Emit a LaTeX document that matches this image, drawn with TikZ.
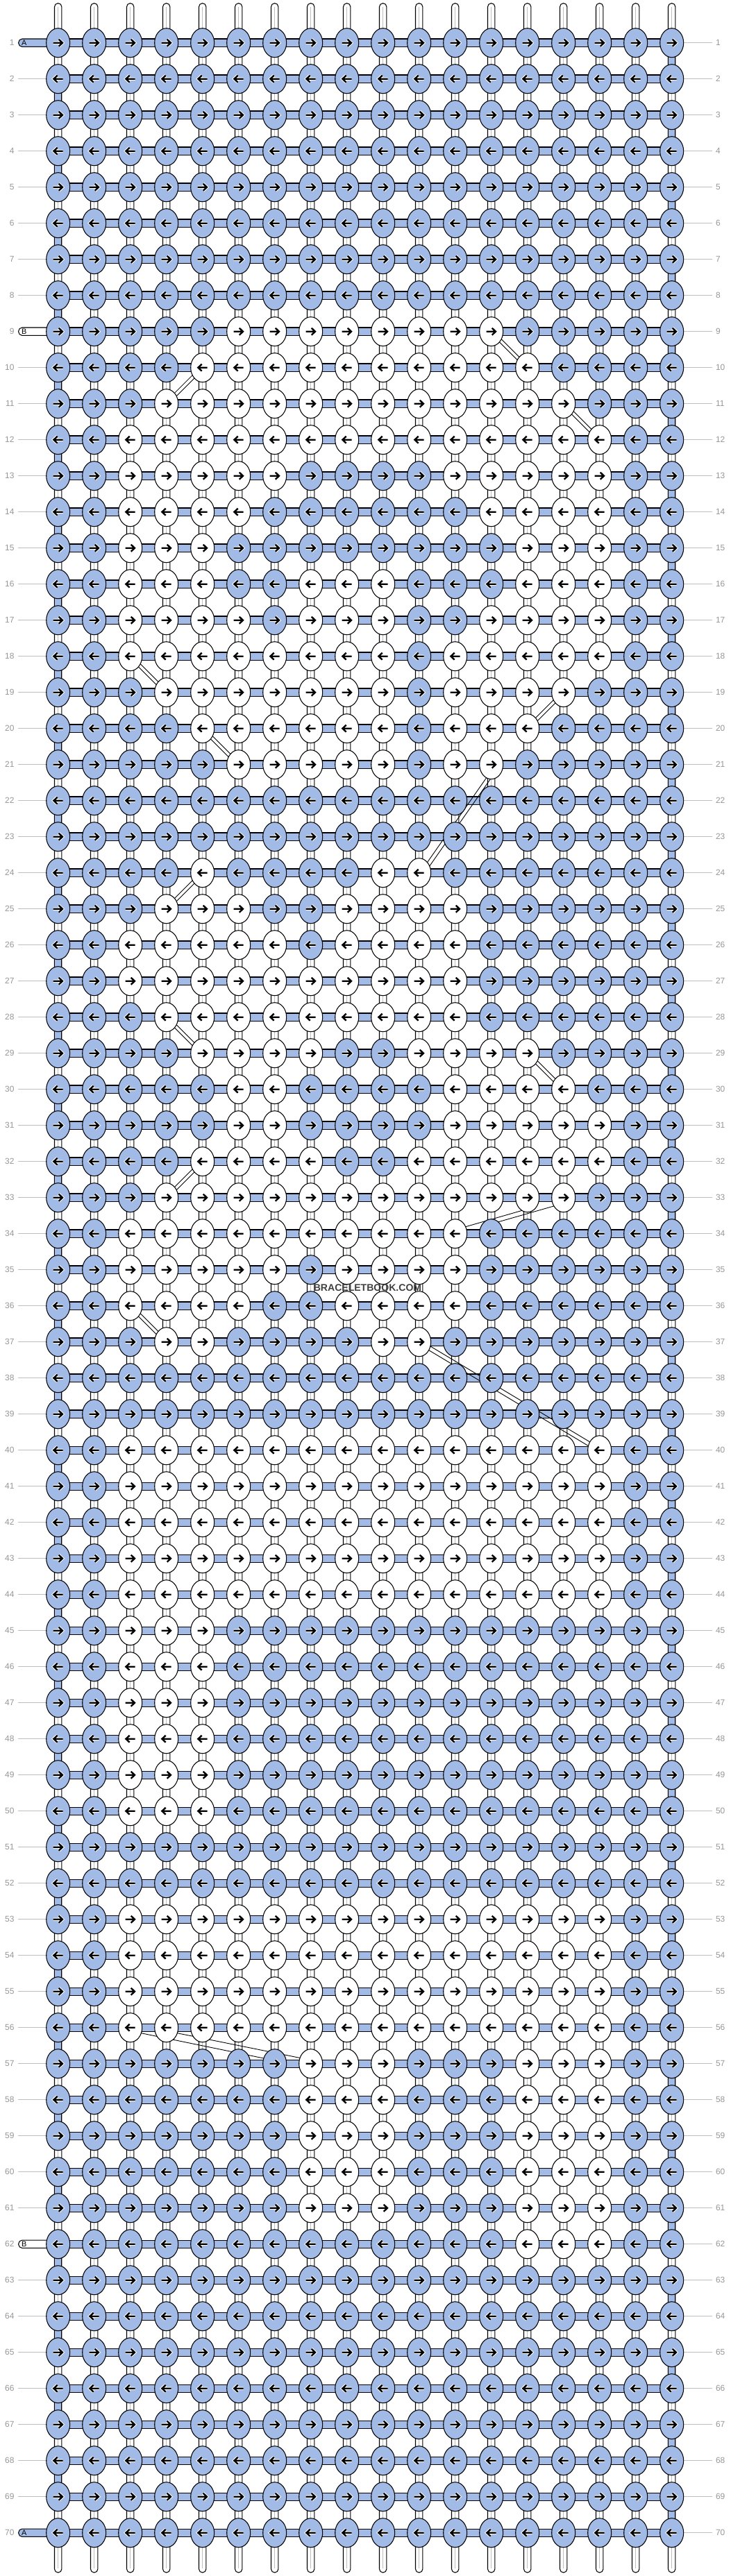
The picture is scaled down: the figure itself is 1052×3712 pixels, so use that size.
\documentclass[tikz,border=0pt]{standalone}
\usepackage{fontspec}
\setmainfont{Liberation Sans}
\usetikzlibrary{calc}
\definecolor{kb}{RGB}{161,187,230}
\definecolor{lblgray}{RGB}{150,150,150}
\definecolor{linegray}{RGB}{190,190,190}
\newcount\colidx
\makeatletter
\def\knotrow#1#2{\edef\kr{#1}\colidx=0 \knot@loop#2\@nil}
\def\knot@loop#1{\ifx#1\@nil\else\advance\colidx by 1 \edef\kc{\the\colidx}\drawknot{#1}\expandafter\knot@loop\fi}
\makeatother
\newcommand\drawknot[1]{%
  \pgfmathsetmacro\kx{83.7+(\kc-1)*52}%
  \pgfmathsetmacro\ky{61.7+(\kr-1)*52}%
  \ifnum#1=1 \def\kfill{kb}\else\def\kfill{white}\fi
  \filldraw[fill=\kfill, draw=black] (\kx,\ky) ellipse [x radius=0.34cm, y radius=0.42cm];
  \ifodd\kr\relax
    \draw[arrhalo, shift={(\kx,\ky)}] (-7,0) -- (6,0) (1,-5) -- (6.3,0) -- (1,5);
    \draw[arrblk, shift={(\kx,\ky)}] (-7,0) -- (6,0) (1,-5) -- (6.3,0) -- (1,5);
  \else
    \draw[arrhalo, shift={(\kx,\ky)}] (7,0) -- (-6,0) (-1,-5) -- (-6.3,0) -- (-1,5);
    \draw[arrblk, shift={(\kx,\ky)}] (7,0) -- (-6,0) (-1,-5) -- (-6.3,0) -- (-1,5);
  \fi}
\newcommand\dstrip[5]{% r1 c1 r2 c2 halfwidth(cm)
  \pgfmathsetmacro\ax{83.7+(#2-1)*52}\pgfmathsetmacro\ay{61.7+(#1-1)*52}%
  \pgfmathsetmacro\bx{83.7+(#4-1)*52}\pgfmathsetmacro\by{61.7+(#3-1)*52}%
  \coordinate (dA) at (\ax,\ay); \coordinate (dB) at (\bx,\by);
  \draw[diag] ($(dA)!#5cm!90:(dB)$) -- ($(dB)!#5cm!-90:(dA)$);
  \draw[diag] ($(dA)!#5cm!-90:(dB)$) -- ($(dB)!#5cm!90:(dA)$);}
\begin{document}
\begin{tikzpicture}[x=0.02cm,y=-0.02cm,line width=0.6pt,
  arrhalo/.style={draw=white,line width=2.5pt,line join=miter},
  arrblk/.style={draw=black,line width=1.35pt,line join=miter},
  lbl/.style={font=\fontsize{6.8pt}{8pt}\selectfont,text=lblgray,inner sep=0pt},
  diag/.style={draw=black,line width=0.5pt},
  tabtxt/.style={font=\fontsize{6.2pt}{7pt}\selectfont,inner sep=0pt,anchor=west}]
\useasboundingbox (0,0) rectangle (1052,3712);
% vertical strings
\foreach \c in {1,...,18}{
  \pgfmathsetmacro\xx{83.7+(\c-1)*52}
  \filldraw[fill=white,draw=black,rounded corners=2.9pt] (\xx-5.2,4.7) rectangle (\xx+5.2,3707);
  \draw[draw=linegray] (\xx,10) -- (\xx,3701);
}
% turning segments of the background string
\foreach \r in {1,...,69}{
  \pgfmathsetmacro\yy{61.7+(\r-1)*52}
  \pgfmathsetmacro\yb{\yy+52}
  \ifodd\r\relax \def\xx{967.7}\else\def\xx{83.7}\fi
  \filldraw[fill=kb,draw=black] (\xx-5.2,\yy) rectangle (\xx+5.2,\yb);
}
% horizontal bars and row labels
\foreach \r in {1,...,70}{
  \pgfmathsetmacro\yy{61.7+(\r-1)*52}
  \filldraw[fill=kb,draw=black] (83.7,\yy-5.7) rectangle (967.7,\yy+5.7);
  \draw[draw=linegray] (984.7,\yy) -- (1025.7,\yy);
  \node[lbl,anchor=west] at (1030.5,\yy) {\r};
  \node[lbl,anchor=east] at (21,\yy) {\r};
}
\foreach \r in {2,...,8,10,11,...,61,63,64,...,69}{
  \pgfmathsetmacro\yy{61.7+(\r-1)*52}
  \draw[draw=linegray] (26,\yy) -- (66.7,\yy);
}
% string tabs
\foreach \r/\fc/\t in {1/kb/A,9/white/B,62/white/B,70/kb/A}{
  \pgfmathsetmacro\yy{61.7+(\r-1)*52}
  \filldraw[fill=\fc,draw=black,rounded corners=3pt] (26.7,\yy-5.7) rectangle (76,\yy+5.7);
  \node[tabtxt] at (30.5,\yy) {\t};
}
% diagonal strips
\dstrip{9}{13}{10}{14}{0.05}
\dstrip{10}{5}{11}{4}{0.05}
\dstrip{11}{15}{12}{16}{0.05}
\dstrip{18}{3}{19}{4}{0.05}
\dstrip{19}{15}{20}{14}{0.05}
\dstrip{20}{5}{21}{6}{0.05}
\dstrip{24}{5}{25}{4}{0.05}
\dstrip{28}{4}{29}{5}{0.05}
\dstrip{29}{14}{30}{15}{0.05}
\dstrip{32}{5}{33}{4}{0.05}
\dstrip{36}{3}{37}{4}{0.05}
\dstrip{37}{11}{40}{16}{0.06}
\draw[diag] (714,1101.7) -- (605,1257.7);
\draw[diag] (721,1101.7) -- (612,1257.7);
\draw[diag] (668,1768.5) -- (760,1742);
\draw[diag] (709,1763.3) -- (807,1735.3);
\draw[diag] (200,2929) -- (385,2967);
\draw[diag] (252,2929) -- (435,2966);
% knots
\foreach \r in {1,...,8,22,23,38,39,51,52,63,64,...,70}{\knotrow{\r}{111111111111111111}}
\knotrow{9}{111110000000011111}
\knotrow{10}{111100000000001111}
\knotrow{11}{111000000000000111}
\knotrow{12}{110000000000000011}
\knotrow{13}{110000011110000011}
\knotrow{14}{110000111111000011}
\knotrow{15}{110001111111100011}
\knotrow{16}{110001100011100011}
\knotrow{17}{110000100011000011}
\knotrow{18}{110000000010000011}
\knotrow{19}{111000000010000111}
\knotrow{20}{111100000010001111}
\knotrow{21}{111110000010011111}
\knotrow{24}{111101111001111111}
\knotrow{25}{111000110000111111}
\knotrow{26}{110000010000111111}
\knotrow{27}{110000000000111111}
\knotrow{28}{111000000000111111}
\knotrow{29}{111100001100001111}
\knotrow{30}{111110011110000111}
\knotrow{31}{111110011110000011}
\knotrow{32}{111100001100000011}
\knotrow{33}{111000000000000111}
\knotrow{34}{110000000000111111}
\knotrow{35}{110000010000111111}
\knotrow{36}{110000110000111111}
\knotrow{37}{111001111001111111}
\foreach \r in {40,...,44}{\knotrow{\r}{110000000000000011}}
\foreach \r in {45,...,50}{\knotrow{\r}{110001111111111111}}
\foreach \r in {53,...,56}{\knotrow{\r}{110000000000000011}}
\foreach \r in {57,...,61}{\knotrow{\r}{111111100011100011}}
\knotrow{62}{111111111111100011}
% watermark
\node[font=\bfseries\fontsize{8pt}{9pt}\selectfont,text=black!75,inner sep=0pt] (wm) at (529.5,1855.5) {BRACELETBOOK.COM};
\end{tikzpicture}
\end{document}
